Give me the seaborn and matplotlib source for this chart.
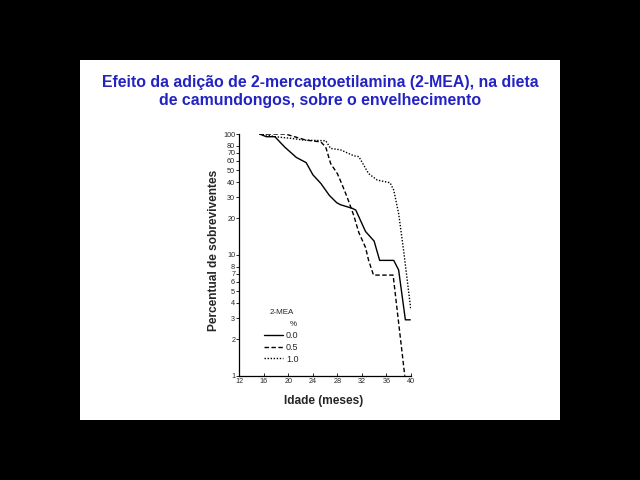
import matplotlib
matplotlib.use('Agg')
import matplotlib.pyplot as plt
import seaborn as sns
import pandas as pd
from matplotlib.patches import Rectangle
from matplotlib.ticker import FixedLocator, FixedFormatter, NullLocator

# ── data (survival curves, log scale) ───────────────────────────────────────
months_00 = [15.3, 16.4, 17.8, 19.4, 21.3, 22.9, 24.0, 25.3, 26.7, 27.9, 28.5,
             30.4, 31.0, 32.6, 34.0, 34.9, 37.2, 38.0, 39.1, 39.9]
surv_00 = [100, 95, 95, 78, 64, 58, 46, 39, 31, 27, 26,
           24.3, 23.5, 15.6, 13, 9, 9, 7.5, 2.9, 2.9]

months_05 = [15.3, 19.5, 21.0, 22.9, 25.3, 26.1, 26.9, 28.0, 28.6, 29.6, 30.7,
             31.5, 32.6, 33.1, 33.9, 37.1, 39.0]
surv_05 = [100, 100, 95, 89, 86, 78, 57, 47, 40, 30, 21,
           15.3, 11.5, 9, 6.8, 6.8, 1.0]

months_10 = [15.3, 16.5, 17.8, 20.5, 22.5, 26.1, 26.9, 28.5, 30.7, 31.5, 33.1,
             34.5, 36.6, 37.2, 38.0, 38.8, 40.0]
surv_10 = [100, 98, 95, 92, 89, 88, 76, 74, 66, 65, 47,
           41.6, 39.5, 34.4, 22, 11, 3.5]

doses = ['0.0', '0.5', '1.0']
x_ticks = [12, 16, 20, 24, 28, 32, 36, 40]
y_ticks = [1, 2, 3, 4, 5, 6, 7, 8, 10, 20, 30, 40, 50, 60, 70, 80, 100]

TITLE = 'Efeito da adição de 2-mercaptoetilamina (2-MEA), na dieta\nde camundongos, sobre o envelhecimento'


def build_frame():
    parts = []
    for dose, m, s in zip(doses, (months_00, months_05, months_10), (surv_00, surv_05, surv_10)):
        parts.append(pd.DataFrame({'Idade': m, 'Sobrev': s, 'dose': dose}))
    return pd.concat(parts, ignore_index=True)


def main():
    sns.set_theme(style='ticks', context='paper')
    plt.rcParams.update({
        'font.family': ['Liberation Sans', 'DejaVu Sans'],
        'axes.linewidth': 0.9, 'axes.edgecolor': 'black',
    })

    fig = plt.figure(figsize=(6.4, 4.8), dpi=100, facecolor='black')
    # white slide area
    fig.patches.append(Rectangle((0.125, 0.125), 0.75, 0.75, transform=fig.transFigure,
                                 facecolor='white', edgecolor='none', zorder=-5))
    fig.text(0.5, 0.8104, TITLE, ha='center', va='center', color='#2323C3',
             fontsize=11.4, fontweight='bold', linespacing=1.25)

    ax = fig.add_axes([0.374, 0.2173, 0.268, 0.5035])
    ax.set_facecolor('none')
    ax.set_zorder(2)

    df = build_frame()
    sns.lineplot(data=df, x='Idade', y='Sobrev', hue='dose', style='dose',
                 hue_order=doses, style_order=doses,
                 palette={d: 'black' for d in doses},
                 dashes={'0.0': '', '0.5': (3.2, 1.8), '1.0': (1, 1.2)},
                 sort=False, estimator=None, linewidth=1.0, ax=ax, legend=True)

    ax.set_yscale('log')
    ax.set_xlim(12, 40)
    ax.set_ylim(1, 100)
    ax.yaxis.set_major_locator(FixedLocator(y_ticks))
    ax.yaxis.set_major_formatter(FixedFormatter([str(v) for v in y_ticks]))
    ax.yaxis.set_minor_locator(NullLocator())
    ax.set_xticks(x_ticks)
    ax.tick_params(axis='y', direction='out', length=2, width=0.7, pad=1, labelsize=5.2)
    ax.tick_params(axis='x', direction='in', length=2, width=0.7, pad=2, labelsize=5.2)
    sns.despine(ax=ax)
    ax.grid(False)

    ax.set_ylabel('Percentual de sobreviventes', fontsize=8.6, fontweight='bold')
    ax.set_xlabel('Idade (meses)', fontsize=8.6, fontweight='bold')
    ax.yaxis.set_label_coords(-0.11, 0.52)
    ax.xaxis.set_label_coords(0.49, -0.078)

    leg = ax.legend(loc='lower left', bbox_to_anchor=(0.12, 0.035), frameon=False,
                    fontsize=6.5, handlelength=2.1, handletextpad=0.4, labelspacing=0.32,
                    borderaxespad=0)
    for line in leg.get_lines():
        line.set_linewidth(1.0)
    ax.text(0.25, 0.26, '2-MEA', transform=ax.transAxes, ha='center', va='center', fontsize=5.8)
    ax.text(0.315, 0.21, '%', transform=ax.transAxes, ha='center', va='center', fontsize=5.8)

    fig.savefig('out.png', dpi=100, facecolor='black')
    plt.close(fig)


if __name__ == '__main__':
    main()
